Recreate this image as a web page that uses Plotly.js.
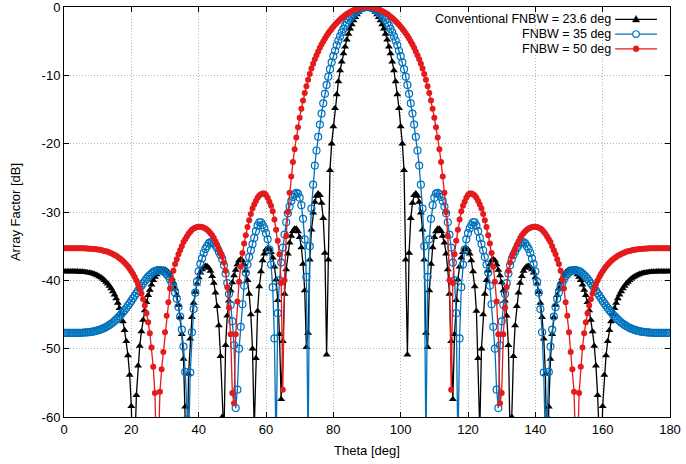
<!DOCTYPE html>
<html>
<head>
<meta charset="utf-8">
<script src="https://cdn.plot.ly/plotly-3.0.1.min.js"></script>
<style>
  html, body { margin: 0; padding: 0; background: #ffffff; }
  #chart { width: 686px; height: 464px; }
</style>
</head>
<body>
<div id="chart"></div>
<script>
// Sampling grid: theta from 0 to 180 deg in 0.5 deg steps (361 samples)
const theta = Array.from({ length: 361 }, (_, i) => i / 2);

const seriesNames = [
  'Conventional FNBW = 23.6 deg',
  'FNBW = 35 deg',
  'FNBW = 50 deg'
];

const xTickVals = [0, 20, 40, 60, 80, 100, 120, 140, 160, 180];
const xTickText = ['0', '20', '40', '60', '80', '100', '120', '140', '160', '180'];
const yTickVals = [-60, -50, -40, -30, -20, -10, 0];
const yTickText = ['-60', '-50', '-40', '-30', '-20', '-10', '0'];

// Array factor [dB]
const afConventional = [
-38.7,-38.7,-38.7,-38.7,-38.7,-38.7,-38.7,-38.7,-38.72,-38.73,
-38.74,-38.76,-38.78,-38.81,-38.84,-38.89,-38.94,-39.01,-39.09,-39.18,
-39.29,-39.44,-39.6,-39.78,-39.99,-40.23,-40.51,-40.83,-41.2,-41.62,
-42.11,-42.67,-43.32,-44.07,-44.96,-46.03,-47.31,-48.91,-51.0,-53.86,
-58.42,-69.2,-65.3,-56.8,-52.5,-49.6,-47.5,-45.8,-44.4,-43.2,
-42.2,-41.4,-40.65,-40.0,-39.5,-39.15,-38.8,-38.6,-38.45,-38.4,
-38.44,-38.58,-38.83,-39.2,-39.7,-40.3,-41.2,-42.2,-43.6,-45.4,
-47.9,-51.5,-58.5,-69.3,-53.7,-48.55,-45.4,-43.3,-41.7,-40.5,
-39.6,-38.9,-38.4,-38.05,-37.9,-37.95,-38.2,-38.65,-39.4,-40.4,
-41.8,-43.8,-46.6,-51.1,-60.0,-63.0,-49.5,-45.2,-43.0,-41.5,
-40.3,-39.3,-38.5,-37.7,-37.1,-36.9,-37.1,-37.7,-38.6,-40.0,
-42.0,-45.0,-50.0,-62.0,-51.4,-44.5,-40.9,-38.7,-37.1,-36.1,
-35.5,-35.3,-35.4,-35.9,-36.7,-38.0,-39.9,-42.9,-47.9,-57.4,
-48.9,-42.0,-38.4,-36.1,-34.5,-33.5,-32.8,-32.46,-32.44,-32.84,
-33.7,-35.2,-37.6,-41.5,-49.8,-47.7,-37.0,-32.6,-30.1,-28.55,
-27.66,-27.3,-27.56,-28.7,-30.9,-36.0,-50.9,-37.0,-23.9,-20.0,
-17.5,-14.8,-12.8,-10.9,-9.3,-8.0,-6.8,-5.8,-4.8,-3.95,
-3.2,-2.55,-1.98,-1.5,-1.08,-0.74,-0.47,-0.26,-0.11,-0.03,
0,
-0.03,-0.11,-0.26,-0.47,-0.74,-1.08,-1.5,-1.98,-2.55,-3.2,
-3.95,-4.8,-5.8,-6.8,-8.0,-9.3,-10.9,-12.8,-14.8,-17.5,
-20.0,-23.9,-37.0,-50.9,-36.0,-30.9,-28.7,-27.56,-27.3,-27.66,
-28.55,-30.1,-32.6,-37.0,-47.7,-49.8,-41.5,-37.6,-35.2,-33.7,
-32.84,-32.44,-32.46,-32.8,-33.5,-34.5,-36.1,-38.4,-42.0,-48.9,
-57.4,-47.9,-42.9,-39.9,-38.0,-36.7,-35.9,-35.4,-35.3,-35.5,
-36.1,-37.1,-38.7,-40.9,-44.5,-51.4,-62.0,-50.0,-45.0,-42.0,
-40.0,-38.6,-37.7,-37.1,-36.9,-37.1,-37.7,-38.5,-39.3,-40.3,
-41.5,-43.0,-45.2,-49.5,-63.0,-60.0,-51.1,-46.6,-43.8,-41.8,
-40.4,-39.4,-38.65,-38.2,-37.95,-37.9,-38.05,-38.4,-38.9,-39.6,
-40.5,-41.7,-43.3,-45.4,-48.55,-53.7,-69.3,-58.5,-51.5,-47.9,
-45.4,-43.6,-42.2,-41.2,-40.3,-39.7,-39.2,-38.83,-38.58,-38.44,
-38.4,-38.45,-38.6,-38.8,-39.15,-39.5,-40.0,-40.65,-41.4,-42.2,
-43.2,-44.4,-45.8,-47.5,-49.6,-52.5,-56.8,-65.3,-69.2,-58.42,
-53.86,-51.0,-48.91,-47.31,-46.03,-44.96,-44.07,-43.32,-42.67,-42.11,
-41.62,-41.2,-40.83,-40.51,-40.23,-39.99,-39.78,-39.6,-39.44,-39.29,
-39.18,-39.09,-39.01,-38.94,-38.89,-38.84,-38.81,-38.78,-38.76,-38.74,
-38.73,-38.72,-38.7,-38.7,-38.7,-38.7,-38.7,-38.7,-38.7,-38.7
];

const afFnbw35 = [
-47.7,-47.7,-47.7,-47.7,-47.7,-47.7,-47.7,-47.7,-47.69,-47.69,
-47.68,-47.67,-47.65,-47.63,-47.61,-47.58,-47.55,-47.51,-47.46,-47.4,
-47.33,-47.26,-47.17,-47.07,-46.96,-46.83,-46.69,-46.53,-46.36,-46.17,
-45.96,-45.74,-45.5,-45.24,-44.97,-44.67,-44.37,-44.05,-43.71,-43.37,
-43.01,-42.64,-42.27,-41.9,-41.52,-41.15,-40.79,-40.44,-40.1,-39.79,
-39.5,-39.24,-39.01,-38.81,-38.66,-38.56,-38.51,-38.51,-38.56,-38.68,
-38.86,-39.1,-39.41,-39.87,-40.4,-41.0,-41.8,-42.7,-43.9,-45.3,
-47.2,-49.7,-53.4,-60.35,-64.0,-53.5,-47.6,-44.2,-41.8,-40.2,
-38.7,-37.6,-36.8,-36.0,-35.4,-35.0,-34.6,-34.4,-34.4,-34.6,
-34.9,-35.3,-35.8,-36.3,-36.9,-37.8,-39.0,-40.4,-42.0,-43.6,
-46.0,-49.5,-58.7,-56.0,-50.0,-46.8,-43.5,-40.8,-38.9,-37.7,
-36.6,-35.6,-34.7,-33.8,-32.8,-32.0,-31.5,-31.5,-31.9,-32.4,
-33.1,-34.0,-35.5,-37.7,-41.0,-48.5,-65.0,-44.8,-40.0,-37.4,
-35.2,-33.3,-31.5,-30.2,-29.2,-28.4,-27.8,-27.4,-27.2,-27.3,
-27.9,-29.0,-31.0,-34.0,-39.5,-65.0,-35.0,-29.5,-26.0,-23.2,
-21.0,-19.0,-17.2,-15.6,-14.1,-12.7,-11.4,-10.2,-9.1,-8.1,
-7.2,-6.4,-5.6,-4.9,-4.3,-3.7,-3.2,-2.7,-2.3,-1.9,
-1.6,-1.3,-1.0,-0.8,-0.6,-0.42,-0.27,-0.15,-0.07,-0.02,
0,
-0.02,-0.07,-0.15,-0.27,-0.42,-0.6,-0.8,-1.0,-1.3,-1.6,
-1.9,-2.3,-2.7,-3.2,-3.7,-4.3,-4.9,-5.6,-6.4,-7.2,
-8.1,-9.1,-10.2,-11.4,-12.7,-14.1,-15.6,-17.2,-19.0,-21.0,
-23.2,-26.0,-29.5,-35.0,-65.0,-39.5,-34.0,-31.0,-29.0,-27.9,
-27.3,-27.2,-27.4,-27.8,-28.4,-29.2,-30.2,-31.5,-33.3,-35.2,
-37.4,-40.0,-44.8,-65.0,-48.5,-41.0,-37.7,-35.5,-34.0,-33.1,
-32.4,-31.9,-31.5,-31.5,-32.0,-32.8,-33.8,-34.7,-35.6,-36.6,
-37.7,-38.9,-40.8,-43.5,-46.8,-50.0,-56.0,-58.7,-49.5,-46.0,
-43.6,-42.0,-40.4,-39.0,-37.8,-36.9,-36.3,-35.8,-35.3,-34.9,
-34.6,-34.4,-34.4,-34.6,-35.0,-35.4,-36.0,-36.8,-37.6,-38.7,
-40.2,-41.8,-44.2,-47.6,-53.5,-64.0,-60.35,-53.4,-49.7,-47.2,
-45.3,-43.9,-42.7,-41.8,-41.0,-40.4,-39.87,-39.41,-39.1,-38.86,
-38.68,-38.56,-38.51,-38.51,-38.56,-38.66,-38.81,-39.01,-39.24,-39.5,
-39.79,-40.1,-40.44,-40.79,-41.15,-41.52,-41.9,-42.27,-42.64,-43.01,
-43.37,-43.71,-44.05,-44.37,-44.67,-44.97,-45.24,-45.5,-45.74,-45.96,
-46.17,-46.36,-46.53,-46.69,-46.83,-46.96,-47.07,-47.17,-47.26,-47.33,
-47.4,-47.46,-47.51,-47.55,-47.58,-47.61,-47.63,-47.65,-47.67,-47.68,
-47.69,-47.69,-47.7,-47.7,-47.7,-47.7,-47.7,-47.7,-47.7,-47.7
];

const afFnbw50 = [
-35.3,-35.3,-35.3,-35.3,-35.3,-35.3,-35.3,-35.3,-35.3,-35.3,
-35.31,-35.31,-35.32,-35.33,-35.35,-35.36,-35.38,-35.4,-35.42,-35.45,
-35.49,-35.53,-35.57,-35.63,-35.69,-35.76,-35.83,-35.93,-36.03,-36.15,
-36.28,-36.42,-36.58,-36.75,-36.95,-37.16,-37.41,-37.67,-37.97,-38.29,
-38.66,-39.06,-39.51,-40.01,-40.58,-41.21,-41.94,-42.76,-43.7,-44.81,
-46.13,-47.75,-49.84,-52.65,-56.5,-66.4,-65.0,-56.3,-53.0,-50.5,
-47.6,-45.2,-43.2,-41.2,-39.9,-38.6,-37.6,-36.9,-36.2,-35.6,
-35.0,-34.4,-34.0,-33.6,-33.2,-32.9,-32.6,-32.4,-32.3,-32.2,
-32.15,-32.15,-32.2,-32.3,-32.4,-32.6,-32.8,-33.1,-33.4,-33.8,
-34.3,-34.8,-35.4,-36.0,-36.5,-37.4,-38.6,-41.0,-44.0,-47.9,
-56.5,-58.0,-47.9,-43.1,-40.2,-38.0,-36.0,-34.6,-33.4,-32.2,
-31.2,-30.3,-29.5,-28.9,-28.4,-27.9,-27.6,-27.4,-27.3,-27.3,
-27.5,-27.9,-28.5,-29.1,-29.9,-31.1,-32.6,-34.2,-36.2,-40.4,
-56.0,-40.0,-33.5,-30.0,-27.2,-24.8,-22.7,-20.8,-19.1,-17.6,
-16.2,-14.9,-13.7,-12.6,-11.6,-10.65,-9.8,-9.0,-8.3,-7.65,
-7.05,-6.5,-5.98,-5.5,-5.05,-4.62,-4.22,-3.85,-3.5,-3.18,
-2.88,-2.6,-2.33,-2.08,-1.84,-1.62,-1.41,-1.22,-1.04,-0.87,
-0.72,-0.58,-0.46,-0.35,-0.26,-0.18,-0.12,-0.07,-0.03,-0.01,
0,
-0.01,-0.03,-0.07,-0.12,-0.18,-0.26,-0.35,-0.46,-0.58,-0.72,
-0.87,-1.04,-1.22,-1.41,-1.62,-1.84,-2.08,-2.33,-2.6,-2.88,
-3.18,-3.5,-3.85,-4.22,-4.62,-5.05,-5.5,-5.98,-6.5,-7.05,
-7.65,-8.3,-9.0,-9.8,-10.65,-11.6,-12.6,-13.7,-14.9,-16.2,
-17.6,-19.1,-20.8,-22.7,-24.8,-27.2,-30.0,-33.5,-40.0,-56.0,
-40.4,-36.2,-34.2,-32.6,-31.1,-29.9,-29.1,-28.5,-27.9,-27.5,
-27.3,-27.3,-27.4,-27.6,-27.9,-28.4,-28.9,-29.5,-30.3,-31.2,
-32.2,-33.4,-34.6,-36.0,-38.0,-40.2,-43.1,-47.9,-58.0,-56.5,
-47.9,-44.0,-41.0,-38.6,-37.4,-36.5,-36.0,-35.4,-34.8,-34.3,
-33.8,-33.4,-33.1,-32.8,-32.6,-32.4,-32.3,-32.2,-32.15,-32.15,
-32.2,-32.3,-32.4,-32.6,-32.9,-33.2,-33.6,-34.0,-34.4,-35.0,
-35.6,-36.2,-36.9,-37.6,-38.6,-39.9,-41.2,-43.2,-45.2,-47.6,
-50.5,-53.0,-56.3,-65.0,-66.4,-56.5,-52.65,-49.84,-47.75,-46.13,
-44.81,-43.7,-42.76,-41.94,-41.21,-40.58,-40.01,-39.51,-39.06,-38.66,
-38.29,-37.97,-37.67,-37.41,-37.16,-36.95,-36.75,-36.58,-36.42,-36.28,
-36.15,-36.03,-35.93,-35.83,-35.76,-35.69,-35.63,-35.57,-35.53,-35.49,
-35.45,-35.42,-35.4,-35.38,-35.36,-35.35,-35.33,-35.32,-35.31,-35.31,
-35.3,-35.3,-35.3,-35.3,-35.3,-35.3,-35.3,-35.3,-35.3,-35.3
];

const colBlack = '#000000';
const colBlue = '#0072bd';
const colRed = '#e41a1c';
const seriesColors = [colBlack, colBlue, colRed];

const traces = [
  {
    x: theta, y: afConventional, name: seriesNames[0], type: 'scatter', mode: 'lines+markers',
    line: { color: colBlack, width: 1.3 },
    marker: { symbol: 'triangle-up', size: 7, color: colBlack },
    cliponaxis: true
  },
  {
    x: theta, y: afFnbw35, name: seriesNames[1], type: 'scatter', mode: 'lines+markers',
    line: { color: colBlue, width: 1.3 },
    marker: { symbol: 'circle-open', size: 7, color: colBlue, line: { width: 1.2, color: colBlue } },
    cliponaxis: true
  },
  {
    x: theta, y: afFnbw50, name: seriesNames[2], type: 'scatter', mode: 'lines+markers',
    line: { color: colRed, width: 1.3 },
    marker: { symbol: 'circle', size: 6, color: colRed },
    cliponaxis: true
  }
];

const fontFam = '"Liberation Sans", Arial, Helvetica, sans-serif';

// gnuplot-style key (text right-aligned, sample line + point on the right)
const keyTextX = 0.904;
const keySampleX0 = 0.9095;
const keySampleX1 = 0.9785;
const keyMarkX = 0.944;
const keyRowsY = [0.970, 0.934, 0.898];

const annotations = seriesNames.map((name, i) => ({
  xref: 'paper', yref: 'paper', x: keyTextX, y: keyRowsY[i],
  xanchor: 'right', yanchor: 'middle', showarrow: false, borderpad: 0,
  text: name, font: { family: fontFam, size: 12.5, color: '#000000' }
}));

const shapes = [];
seriesNames.forEach((name, i) => {
  shapes.push({
    type: 'line', xref: 'paper', yref: 'paper',
    x0: keySampleX0, x1: keySampleX1, y0: keyRowsY[i], y1: keyRowsY[i],
    line: { color: seriesColors[i], width: 1.3 }
  });
});
// key point glyphs
shapes.push({
  type: 'path', xref: 'paper', yref: 'paper', xsizemode: 'pixel', ysizemode: 'pixel',
  xanchor: keyMarkX, yanchor: keyRowsY[0],
  path: 'M -3.6 -2.6 L 3.6 -2.6 L 0 3.8 Z',
  fillcolor: colBlack, line: { color: colBlack, width: 0.5 }
});
shapes.push({
  type: 'circle', xref: 'paper', yref: 'paper', xsizemode: 'pixel', ysizemode: 'pixel',
  xanchor: keyMarkX, yanchor: keyRowsY[1], x0: -3.3, x1: 3.3, y0: -3.3, y1: 3.3,
  fillcolor: '#ffffff', line: { color: colBlue, width: 1.2 }
});
shapes.push({
  type: 'circle', xref: 'paper', yref: 'paper', xsizemode: 'pixel', ysizemode: 'pixel',
  xanchor: keyMarkX, yanchor: keyRowsY[2], x0: -3, x1: 3, y0: -3, y1: 3,
  fillcolor: colRed, line: { color: colRed, width: 0.5 }
});

const axisCommon = {
  tickmode: 'array',
  ticks: 'inside', ticklen: 5, tickwidth: 1, tickcolor: '#000000',
  showline: true, linecolor: '#000000', linewidth: 1, mirror: 'ticks',
  showgrid: true, gridcolor: '#b4b4b4', gridwidth: 1, griddash: '1px,2px',
  zeroline: false, automargin: false, ticklabeloverflow: 'allow',
  tickfont: { family: fontFam, size: 13, color: '#000000' }
};

const layout = {
  width: 686,
  height: 464,
  margin: { l: 64, r: 16, t: 7, b: 47, pad: 0 },
  paper_bgcolor: '#ffffff',
  plot_bgcolor: '#ffffff',
  font: { family: fontFam, size: 13, color: '#000000' },
  showlegend: false,
  annotations: annotations,
  shapes: shapes,
  xaxis: Object.assign({}, axisCommon, {
    range: [0, 180], tickvals: xTickVals, ticktext: xTickText,
    title: { text: 'Theta [deg]', font: { family: fontFam, size: 13, color: '#000000' }, standoff: 10 }
  }),
  yaxis: Object.assign({}, axisCommon, {
    range: [-60, 0], tickvals: yTickVals, ticktext: yTickText,
    title: { text: 'Array Factor [dB]', font: { family: fontFam, size: 13, color: '#000000' }, standoff: 18 }
  })
};

Plotly.newPlot('chart', traces, layout, { staticPlot: true, displayModeBar: false });
</script>
</body>
</html>
